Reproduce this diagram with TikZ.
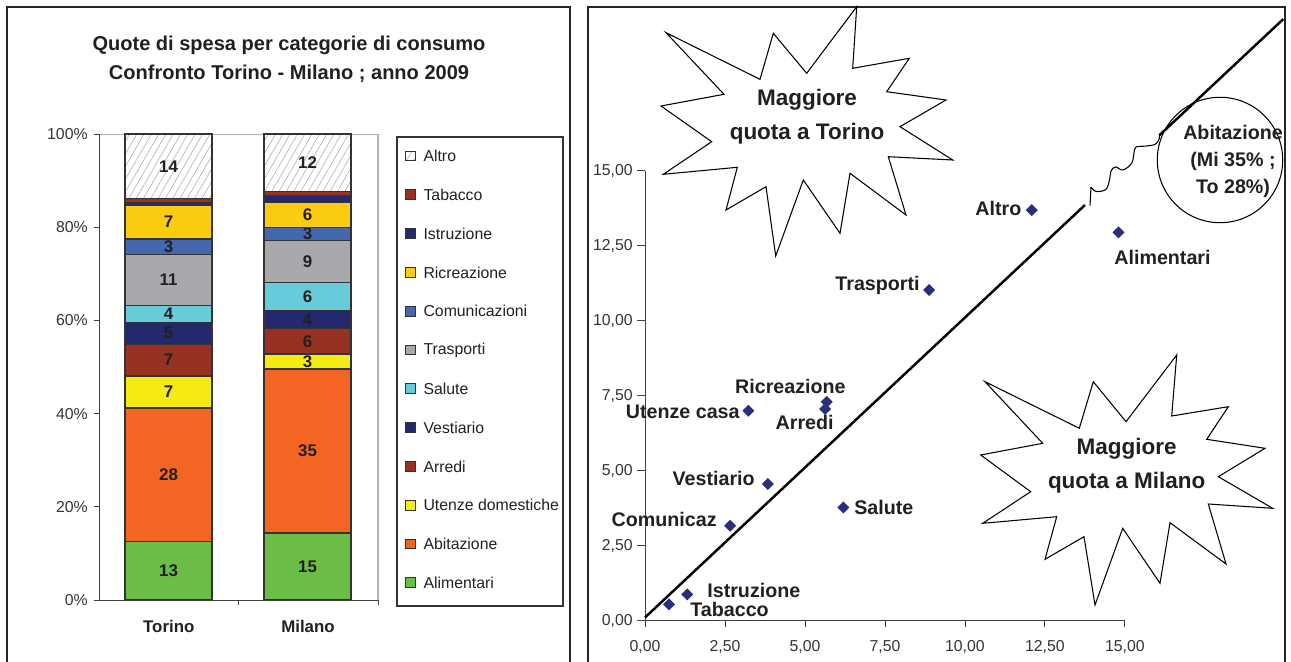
\documentclass[tikz,border=0pt]{standalone}
\usepackage{fontspec}
\setmainfont{Liberation Sans}
\usetikzlibrary{shapes.geometric, positioning, patterns.meta}

\definecolor{alim}{RGB}{106,189,69}
\definecolor{abit}{RGB}{242,101,34}
\definecolor{utenze}{RGB}{244,235,20}
\definecolor{arredi}{RGB}{150,50,34}
\definecolor{vest}{RGB}{36,40,110}
\definecolor{salute}{RGB}{104,203,217}
\definecolor{trasp}{RGB}{167,169,172}
\definecolor{comun}{RGB}{68,104,176}
\definecolor{ricr}{RGB}{252,204,16}
\definecolor{ptcol}{RGB}{43,45,125}
\definecolor{ink}{RGB}{35,31,32}

\def\fs#1#2{\fontsize{#1}{#2}\selectfont}

\begin{document}
\begin{tikzpicture}[x=0.02cm, y=-0.02cm,
    panel/.style={draw=black!85, line width=1pt},
    axis/.style={draw=black!75, line width=0.5pt},
    plotframe/.style={draw=black!30, line width=0.6pt},
    barseg/.style={draw=black!80, line width=0.7pt},
    fAlim/.style={fill=alim}, fAbit/.style={fill=abit}, fUten/.style={fill=utenze},
    fArre/.style={fill=arredi}, fVest/.style={fill=vest}, fSalu/.style={fill=salute},
    fTras/.style={fill=trasp}, fComu/.style={fill=comun}, fRicr/.style={fill=ricr},
    fAltro/.style={pattern={Lines[angle=60,distance=3.6pt,line width=0.35pt]}, pattern color=black!30},
    title/.style={font=\fs{11.4}{16.4}\bfseries, text=ink, align=center, inner sep=0pt},
    barnum/.style={font=\fs{9.6}{11}\bfseries, text=ink, inner sep=0pt},
    ticklbl/.style={font=\fs{9}{11}, text=black!80, inner sep=0pt},
    legbox/.style={draw=black!80, line width=0.5pt, minimum size=5.6pt, inner sep=0pt},
    legtxt/.style={font=\fs{9}{11}, text=ink, inner sep=0pt},
    lbl/.style={font=\fs{11.2}{13}\bfseries, text=ink, inner sep=0pt},
    pt/.style={diamond, fill=ptcol, inner sep=0pt, minimum size=7pt},
    diag/.style={draw=black, line width=1.4pt},
    brk/.style={draw=black, line width=0.6pt},
    burst/.style={draw=black, line width=0.6pt},
    bigtxt/.style={font=\fs{12.8}{19.2}\bfseries, text=ink, align=center, inner sep=0pt}]
\useasboundingbox (0,0) rectangle (1291,662);

% panels
\draw[panel] (7,670) -- (7,7) -- (570,7) -- (570,670);
\draw[panel] (588,670) -- (588,7) -- (1285,7) -- (1285,670);

% ---- left: stacked bars
\node[title] (ttl) at (289,59) {Quote di spesa per categorie di consumo\\Confronto Torino - Milano ; anno 2009};

\begin{scope}[shift={(99,600)}, x=0.02cm, y=0.0932cm]
  \draw[plotframe] (0,100) -- (279,100) -- (279,0);
  \foreach \lo/\hi/\sty/\v [count=\i] in {0/12.5/fAlim/13, 12.5/41.2/fAbit/28,
      41.2/48.1/fUten/7, 48.1/54.9/fArre/7, 54.9/59.6/fVest/5, 59.6/63.2/fSalu/4,
      63.2/74.2/fTras/11, 74.2/77.5/fComu/3, 77.5/84.7/fRicr/7, 84.7/85.3/fVest/{},
      85.3/86.2/fArre/{}, 86.2/100/fAltro/14} {
    \draw[barseg, \sty] (26,\lo) rectangle (113,\hi);
    \node[barnum] (tor\i) at (69.5,{(\lo+\hi)/2}) {\v};
  }
  \foreach \lo/\hi/\sty/\v [count=\i] in {0/14.4/fAlim/15, 14.4/49.6/fAbit/35,
      49.6/52.8/fUten/3, 52.8/58.2/fArre/6, 58.2/62.2/fVest/4, 62.2/68.2/fSalu/6,
      68.2/77.1/fTras/9, 77.1/80.0/fComu/3, 80.0/85.3/fRicr/6, 85.3/86.9/fVest/{},
      86.9/87.7/fArre/{}, 87.7/100/fAltro/12} {
    \draw[barseg, \sty] (165,\lo) rectangle (252,\hi);
    \node[barnum] (mil\i) at (208.5,{(\lo+\hi)/2}) {\v};
  }
  \draw[axis] (0,100) -- (0,0) -- (279,0);
  \foreach \p in {0,20,...,100} {
    \draw[axis] (-5,\p) -- (0,\p);
    \node[ticklbl, anchor=east] (yl\p) at (-11,\p) {\p\%};
  }
  \draw[axis] (139.5,0) -- (139.5,-1.1);
  \draw[axis] (279,0) -- (279,-1.1);
\end{scope}
\node[barnum] (torLbl) at (168.75,626.7) {Torino};
\node[barnum] (milLbl) at (308,626.7) {Milano};

% legend
\draw[draw=black!80, line width=0.6pt] (397,137) rectangle (563,606);
\foreach \lab/\sty [count=\i] in {Altro/fAltro, Tabacco/fArre, Istruzione/fVest,
    Ricreazione/fRicr, Comunicazioni/fComu, Trasporti/fTras, Salute/fSalu,
    Vestiario/fVest, Arredi/fArre, Utenze domestiche/fUten, Abitazione/fAbit,
    Alimentari/fAlim} {
  \node[legbox, \sty] (leg\i) at (410.8,{156+(\i-1)*38.8}) {};
  \node[legtxt, right=4pt of leg\i] (legt\i) {\lab};
}

% ---- right: scatter
\draw[burst] (856.7,6.7) -- (852.7,68.3) -- (909.3,58.3) -- (886.7,91.7) -- (946,100)
  -- (900,126.7) -- (952.7,160) -- (888.3,156.7) -- (906,215) -- (850,173.3)
  -- (840,233.3) -- (803.3,180) -- (775.7,256) -- (766,186.7) -- (726,210)
  -- (737.3,167.3) -- (663.3,174.3) -- (711.7,141.7) -- (661,106) -- (724,94.3)
  -- (666,32.7) -- (760,79.3) -- (773.3,33.3) -- (806.7,73.3) -- cycle;
\node[bigtxt] (torTxt) at (807,116.7) {Maggiore\\quota a Torino};

\draw[burst] (985,381.7) -- (1079.3,428.3) -- (1093.3,381.7) -- (1126,421.7)
  -- (1176.7,355) -- (1171.7,416) -- (1228.3,406.7) -- (1206.7,439.3) -- (1265,448.3)
  -- (1218.3,476.7) -- (1272.7,508.3) -- (1208.3,504) -- (1226,564) -- (1170,522.7)
  -- (1160,583.3) -- (1122.7,528.3) -- (1095,605) -- (1084,536.7) -- (1045,559.3)
  -- (1056.7,516.7) -- (982.7,523.3) -- (1030.7,491.7) -- (980.7,455) -- (1042.7,443.3)
  -- cycle;
\node[bigtxt] (milTxt) at (1126.7,465.8) {Maggiore\\quota a Milano};

\node[draw, line width=0.6pt, circle, minimum size=71.4pt, inner sep=0pt] (abitCirc) at (1220,160) {};
\node[lbl, align=center, font=\fs{11.2}{15.5}\bfseries] (abitTxt) at (1233,161.3) {Abitazione\\(Mi 35\% ;\\To 28\%)};

\begin{scope}[shift={(645,620.5)}, x=0.64cm, y=0.6cm]
  \draw[axis] (0,15) -- (0,0) -- (15,0);
  \foreach \v/\t in {0/{0,00}, 2.5/{2,50}, 5/{5,00}, 7.5/{7,50}, 10/{10,00}, 12.5/{12,50}, 15/{15,00}} {
    \draw[axis] (-0.25,\v) -- (0,\v);
    \draw[axis] (\v,0) -- (\v,-0.22);
    \node[ticklbl, anchor=east] at (-0.375,\v) {\t};
    \node[ticklbl] at (\v,-0.873) {\t};
  }
  \draw[diag] (0,0.1) -- (13.75,13.85);
  \draw[diag] (16.08,16.18) -- (19.95,20.05);
  \foreach \nm/\px/\py in {taba/0.75/0.54, istr/1.32/0.87, comu/2.66/3.16,
      vest/3.84/4.55, uten/3.23/6.99, ricr/5.68/7.29, arre/5.63/7.05,
      salu/6.2/3.77, tras/8.88/11.02, altro/12.09/13.68, alim/14.8/12.94}
    \node[pt] (p\nm) at (\px,\py) {};
\end{scope}

% break in the diagonal
\draw[brk] (1090,205.6) -- (1091,187)
  plot[smooth, tension=0.6] coordinates {(1091,187) (1096,191.4) (1106,189.3)
  (1109.7,179) (1111,171) (1115.5,166.9) (1123,170) (1131.8,163) (1134,153)
  (1136,147) (1145.4,146.1) (1155,144.4) (1159,139.3) (1159.7,134.2)};

\node[lbl, anchor=east] (lAltro) at (1021.7,208) {Altro};
\node[lbl, anchor=east] (lTras) at (920,285) {Trasporti};
\node[lbl, anchor=west] (lAlim) at (1114,257) {Alimentari};
\node[lbl, anchor=east] (lRicr) at (846,386.7) {Ricreazione};
\node[lbl, anchor=east] (lUten) at (740,411.7) {Utenze casa};
\node[lbl, anchor=east] (lArre) at (834,422.3) {Arredi};
\node[lbl, anchor=east] (lVest) at (755,478.3) {Vestiario};
\node[lbl, anchor=west] (lSalu) at (854,507.3) {Salute};
\node[lbl, anchor=east] (lComu) at (717,519) {Comunicaz};
\node[lbl, anchor=west] (lIstr) at (707,590) {Istruzione};
\node[lbl, anchor=west] (lTaba) at (690,609.3) {Tabacco};
\end{tikzpicture}
\end{document}
